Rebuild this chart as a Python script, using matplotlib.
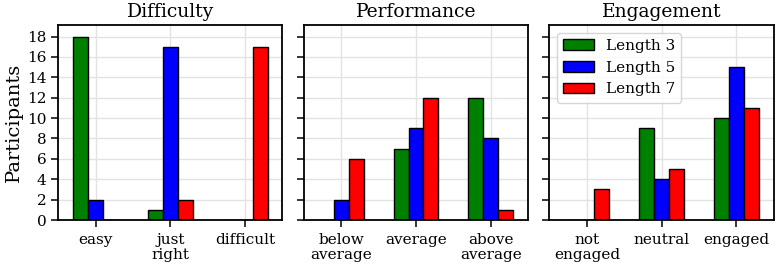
import numpy as np
import matplotlib
matplotlib.use("Agg")
import matplotlib.pyplot as plt

plt.rcParams["font.family"] = "DejaVu Serif"

titles = ["Difficulty", "Performance", "Engagement"]
categories = [
    ["easy", "just\nright", "difficult"],
    ["below\naverage", "average", "above\naverage"],
    ["not\nengaged", "neutral", "engaged"],
]
series_names = ["Length 3", "Length 5", "Length 7"]
colors = ["green", "blue", "red"]

# counts per panel: rows = Length 3, 5, 7
difficulty = [[18, 1, 0], [2, 17, 0], [0, 2, 17]]
performance = [[0, 7, 12], [2, 9, 8], [6, 12, 1]]
engagement = [[0, 9, 10], [0, 4, 15], [3, 5, 11]]
panels = [difficulty, performance, engagement]

fig, axes = plt.subplots(1, 3, figsize=(7.75, 2.67), dpi=100, sharey=True)
fig.subplots_adjust(left=0.075, right=0.9985, bottom=0.176, top=0.905, wspace=0.095)

width = 0.2
x = np.arange(3)
for ax, title, cats, data in zip(axes, titles, categories, panels):
    ax.set_axisbelow(True)
    ax.grid(True, color="#e3e3e3", linewidth=1)
    for i, (vals, name, c) in enumerate(zip(data, series_names, colors)):
        ax.bar(x + (i - 1) * width, vals, width, color=c, edgecolor="black",
               linewidth=1, label=name)
    ax.set_xticks(x)
    ax.set_xticklabels(cats, fontsize=11, linespacing=1.05)
    ax.set_title(title, fontsize=13.5)
    ax.set_xlim(-0.5, 2.5)
    ax.tick_params(length=5, width=1.1)
    ax.tick_params(axis="x", pad=4.5)
    for s in ax.spines.values():
        s.set_linewidth(1.3)

axes[0].set_ylim(0, 19.1)
axes[0].set_yticks(range(0, 19, 2))
axes[0].tick_params(axis="y", labelsize=11)
axes[0].set_ylabel("Participants", fontsize=14, labelpad=3)
axes[2].legend(loc="upper left", fontsize=11)

plt.savefig("out.png")
